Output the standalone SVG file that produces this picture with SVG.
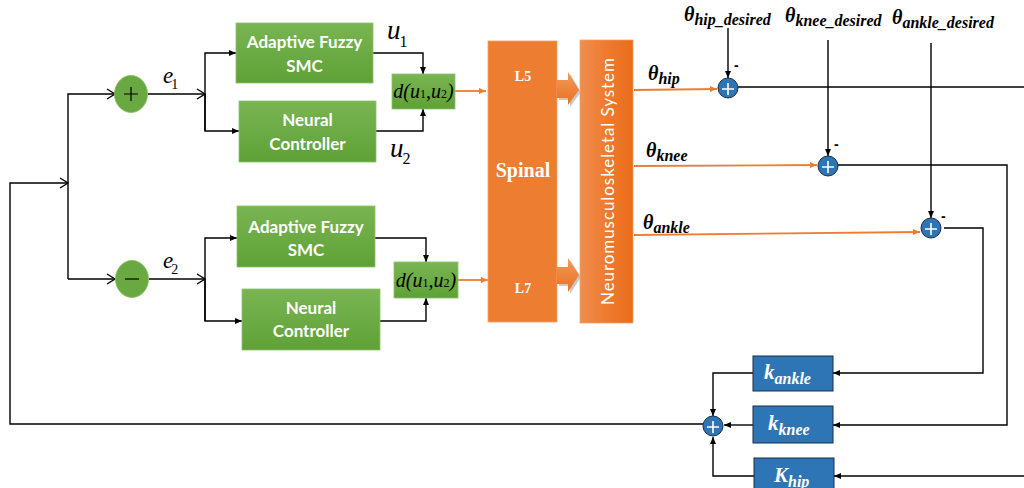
<svg xmlns="http://www.w3.org/2000/svg" width="1024" height="488" viewBox="0 0 1024 488">
  <defs>
    <linearGradient id="gGreen" x1="0" y1="0" x2="0" y2="1">
      <stop offset="0" stop-color="#79b553"/>
      <stop offset="1" stop-color="#5fa136"/>
    </linearGradient>
    <linearGradient id="gNeuro" x1="0" y1="0" x2="1" y2="0">
      <stop offset="0" stop-color="#f08d4e"/>
      <stop offset="0.5" stop-color="#ee7b2e"/>
      <stop offset="1" stop-color="#e96c1a"/>
    </linearGradient>
    <linearGradient id="gBlock" x1="0" y1="0" x2="0" y2="1">
      <stop offset="0" stop-color="#f39a5c"/>
      <stop offset="1" stop-color="#e8701f"/>
    </linearGradient>
    <marker id="tri" markerUnits="userSpaceOnUse" markerWidth="8" markerHeight="8" refX="7" refY="4" orient="auto">
      <path d="M0,1 L7,4 L0,7 Z" fill="#000"/>
    </marker>
    <marker id="chev" markerUnits="userSpaceOnUse" markerWidth="10" markerHeight="12" refX="9" refY="6" orient="auto">
      <path d="M1,1 L9,6 L1,11" fill="none" stroke="#000" stroke-width="1.3"/>
    </marker>
    <marker id="triO" markerUnits="userSpaceOnUse" markerWidth="8" markerHeight="8" refX="7" refY="4" orient="auto">
      <path d="M0,1 L7,4 L0,7 Z" fill="#ed7d31"/>
    </marker>
    <style>
      .ln { fill: none; stroke: #000; stroke-width: 1.4; }
      .lnO { fill: none; stroke: #ed7d31; stroke-width: 1.8; }
      .green { fill: url(#gGreen); stroke: #8cc46a; stroke-width: 0.8; }
      .blue { fill: #2e75b6; stroke: #1f2d45; stroke-width: 1; }
      .sum { fill: #2e75b6; stroke: #1f2d45; stroke-width: 1; }
      .gsum { fill: #6aa842; stroke: #7cbf54; stroke-width: 0.8; }
      .plusW { stroke: #fff; stroke-width: 1.6; }
      .lbl { font-family: Lato, "Liberation Sans", sans-serif; font-weight: bold; font-size: 17px; fill: #fff; text-anchor: middle; }
      .math { font-family: "Liberation Serif", serif; font-style: italic; fill: #000; }
      .th { font-family: "Liberation Serif", serif; font-style: italic; font-weight: bold; fill: #000; }
      .thw { font-family: "Liberation Serif", serif; font-style: italic; font-weight: bold; fill: #fff; }
      .sp { font-family: "Liberation Serif", serif; font-weight: bold; fill: #fff; text-anchor: middle; }
      .neg { font-family: "Liberation Sans", sans-serif; font-weight: bold; font-size: 14px; fill: #000; }
    </style>
  </defs>
  <rect width="1024" height="488" fill="#fff"/>

  <!-- connectors -->
  <g id="connectors">
    <!-- outer feedback into the reference split -->
    <path class="ln" d="M703,424 L10,424 L10,183 L68,183" marker-end="url(#chev)"/>
    <path class="ln" d="M68,279 L68,94 L115,94" marker-end="url(#chev)"/>
    <path class="ln" d="M68,279 L115,279" marker-end="url(#chev)"/>
    <!-- upper channel -->
    <path class="ln" d="M148,94 L205,94" marker-end="url(#chev)"/>
    <path class="ln" d="M205,131 L205,53 L236,53" marker-end="url(#tri)"/>
    <path class="ln" d="M205,94 L205,131 L239,131" marker-end="url(#tri)"/>
    <path class="ln" d="M373,53 L423,53 L423,74" marker-end="url(#tri)"/>
    <path class="ln" d="M376,131 L423,131 L423,109" marker-end="url(#tri)"/>
    <!-- lower channel -->
    <path class="ln" d="M149,279 L205,279" marker-end="url(#chev)"/>
    <path class="ln" d="M205,321 L205,238 L237,238" marker-end="url(#tri)"/>
    <path class="ln" d="M205,279 L205,321 L242,321" marker-end="url(#tri)"/>
    <path class="ln" d="M375,238 L426,238 L426,262" marker-end="url(#tri)"/>
    <path class="ln" d="M380,321 L426,321 L426,298" marker-end="url(#tri)"/>
    <!-- outputs into spinal -->
    <path class="lnO" d="M455,91 L486,91" marker-end="url(#triO)"/>
    <path class="lnO" d="M458,280 L488,280" marker-end="url(#triO)"/>
    <!-- joint angles -->
    <path class="lnO" d="M634,90 L717,89" marker-end="url(#triO)"/>
    <path class="lnO" d="M634,166 L817,165" marker-end="url(#triO)"/>
    <path class="lnO" d="M634,235 L920,232" marker-end="url(#triO)"/>
    <!-- desired angles -->
    <path class="ln" d="M728,28 L728,78" marker-end="url(#tri)"/>
    <path class="ln" d="M828,40 L828,156" marker-end="url(#tri)"/>
    <path class="ln" d="M931,43 L931,218" marker-end="url(#tri)"/>
    <!-- errors back to gains -->
    <path class="ln" d="M738,87 L1024,87"/>
    <path class="ln" d="M1024,476 L834,476" marker-end="url(#tri)"/>
    <path class="ln" d="M838,165 L1007,165 L1007,425 L833,425" marker-end="url(#tri)"/>
    <path class="ln" d="M944,228 L983,228 L983,373 L833,373" marker-end="url(#tri)"/>
    <!-- gains into summing junction -->
    <path class="ln" d="M753,373 L713,373 L713,416" marker-end="url(#tri)"/>
    <path class="ln" d="M753,425 L724,425" marker-end="url(#tri)"/>
    <path class="ln" d="M754,476 L713,476 L713,437" marker-end="url(#tri)"/>
  </g>

  <!-- error sums -->
  <g id="sum-plus">
    <ellipse class="gsum" cx="131" cy="94" rx="16.5" ry="18.5"/>
    <path d="M124,94 H138 M131,87 V101" stroke="#000" stroke-width="1.2"/>
  </g>
  <g id="sum-minus">
    <ellipse class="gsum" cx="132" cy="279" rx="16.5" ry="18.5"/>
    <path d="M125,279 H139" stroke="#000" stroke-width="1.2"/>
  </g>
  <g id="labels-e">
    <text class="math" x="163" y="83" font-size="23">e<tspan font-style="normal" font-size="14" dx="-2" dy="6">1</tspan></text>
    <text class="math" x="163" y="268" font-size="23">e<tspan font-style="normal" font-size="14" dx="-2" dy="6">2</tspan></text>
  </g>

  <!-- upper controllers -->
  <g id="afsmc-1">
    <rect class="green" x="236" y="23" width="137" height="60"/>
    <text class="lbl" x="304.5" y="48">Adaptive Fuzzy</text>
    <text class="lbl" x="304.5" y="72">SMC</text>
  </g>
  <g id="neural-1">
    <rect class="green" x="239" y="101" width="137" height="61"/>
    <text class="lbl" x="307.5" y="126">Neural</text>
    <text class="lbl" x="307.5" y="150">Controller</text>
  </g>
  <g id="u-labels">
    <text class="math" x="387" y="39" font-size="27">u<tspan font-style="normal" font-size="16" dx="-1" dy="8">1</tspan></text>
    <text class="math" x="390" y="157" font-size="27">u<tspan font-style="normal" font-size="16" dx="-1" dy="7">2</tspan></text>
  </g>
  <g id="mix-1">
    <rect class="green" x="392" y="74" width="63" height="35"/>
    <text class="math" x="423.5" y="98" font-size="20" text-anchor="middle">d(u<tspan font-style="normal" font-size="12">1</tspan>,u<tspan font-style="normal" font-size="12">2</tspan>)</text>
  </g>

  <!-- lower controllers -->
  <g id="afsmc-2">
    <rect class="green" x="237" y="206" width="138" height="61"/>
    <text class="lbl" x="306" y="233">Adaptive Fuzzy</text>
    <text class="lbl" x="306" y="256">SMC</text>
  </g>
  <g id="neural-2">
    <rect class="green" x="242" y="289" width="138" height="61"/>
    <text class="lbl" x="311" y="314">Neural</text>
    <text class="lbl" x="311" y="337">Controller</text>
  </g>
  <g id="mix-2">
    <rect class="green" x="394" y="262" width="64" height="36"/>
    <text class="math" x="426" y="287" font-size="20" text-anchor="middle">d(u<tspan font-style="normal" font-size="12">1</tspan>,u<tspan font-style="normal" font-size="12">2</tspan>)</text>
  </g>

  <!-- spinal cord -->
  <g id="spinal">
    <rect x="488" y="41" width="69" height="281" fill="#ed7d31" stroke="#f3a06a" stroke-width="0.8"/>
    <text class="sp" x="523" y="81" font-size="14">L5</text>
    <text class="sp" x="523" y="177" font-size="20">Spinal</text>
    <text class="sp" x="523" y="293" font-size="14">L7</text>
  </g>
  <g id="block-arrows">
    <path d="M559,82 H570 V74 L581,92 L570,107 V100 H559 Z" fill="#9a9a9a" opacity="0.55"/>
    <path d="M557,80 H568 V72 L579,90 L568,105 V98 H557 Z" fill="url(#gBlock)"/>
    <path d="M559,269 H570 V260 L581,277 L570,294 V286 H559 Z" fill="#9a9a9a" opacity="0.55"/>
    <path d="M557,267 H568 V258 L579,275 L568,292 V284 H557 Z" fill="url(#gBlock)"/>
  </g>

  <!-- musculoskeletal plant -->
  <g id="neuromusculoskeletal">
    <rect x="580" y="40" width="53" height="283" fill="url(#gNeuro)" stroke="#f3a06a" stroke-width="0.8"/>
    <text transform="translate(614,181.5) rotate(-90)" text-anchor="middle" font-family="Lato, 'Liberation Sans', sans-serif" font-size="17" fill="#fff" textLength="247">Neuromusculoskeletal  System</text>
  </g>

  <!-- joint angle labels -->
  <g id="theta-labels">
    <text class="th" x="648" y="80" font-size="20">θ<tspan font-size="16" y="84">hip</tspan></text>
    <text class="th" x="646" y="157" font-size="20">θ<tspan font-size="16" y="161">knee</tspan></text>
    <text class="th" x="643" y="229" font-size="20">θ<tspan font-size="16" y="233">ankle</tspan></text>
    <text class="th" x="684" y="21" font-size="20">θ<tspan font-size="16" y="25">hip_desired</tspan></text>
    <text class="th" x="785" y="22" font-size="20">θ<tspan font-size="16" y="26">knee_desired</tspan></text>
    <text class="th" x="892" y="24" font-size="20">θ<tspan font-size="16" y="28">ankle_desired</tspan></text>
  </g>

  <!-- angle error sums -->
  <g id="sum-hip">
    <circle class="sum" cx="728" cy="88" r="10"/>
    <path class="plusW" d="M722,89 H734 M728,83 V95"/>
    <text class="neg" x="734" y="70">-</text>
  </g>
  <g id="sum-knee">
    <circle class="sum" cx="828" cy="166" r="10"/>
    <path class="plusW" d="M822,167 H834 M828,161 V173"/>
    <text class="neg" x="834" y="149">-</text>
  </g>
  <g id="sum-ankle">
    <circle class="sum" cx="931" cy="228" r="10"/>
    <path class="plusW" d="M925,229 H937 M931,223 V235"/>
    <text class="neg" x="941" y="221">-</text>
  </g>

  <!-- feedback gains -->
  <g id="gain-ankle">
    <rect class="blue" x="753" y="356" width="80" height="35"/>
    <text class="thw" x="764" y="379" font-size="21">k<tspan font-size="16" y="384">ankle</tspan></text>
  </g>
  <g id="gain-knee">
    <rect class="blue" x="753" y="406" width="80" height="37"/>
    <text class="thw" x="768" y="430" font-size="21">k<tspan font-size="16" y="435">knee</tspan></text>
  </g>
  <g id="gain-hip">
    <rect class="blue" x="754" y="458" width="80" height="36"/>
    <text class="thw" x="774" y="482" font-size="21">K<tspan font-size="16" y="487">hip</tspan></text>
  </g>
  <g id="sum-gains">
    <circle class="sum" cx="713" cy="426" r="10"/>
    <path class="plusW" d="M707,427 H719 M713,421 V433"/>
  </g>
</svg>
